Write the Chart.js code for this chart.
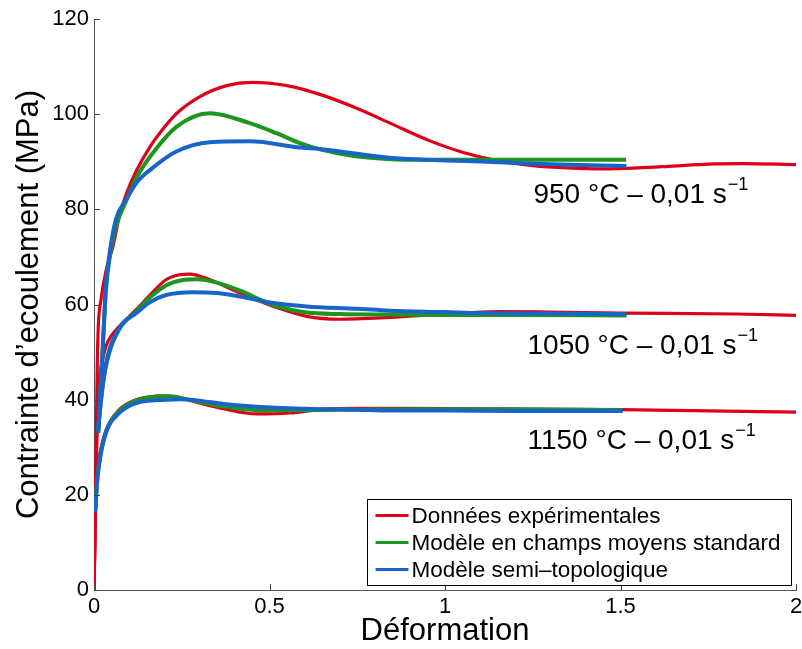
<!DOCTYPE html>
<html>
<head>
<meta charset="utf-8">
<title>Contrainte d'écoulement</title>
<script src="https://cdn.jsdelivr.net/npm/chart.js@4.4.1/dist/chart.umd.min.js"></script>
<style>
  html, body { margin: 0; padding: 0; background: #fff; }
  #wrap { width: 802px; height: 649px; }
</style>
</head>
<body>
<div id="wrap"><canvas id="flow-chart" width="802" height="649"></canvas></div>
<script>
// axis ticks
const strainTicks = [0, 0.5, 1, 1.5, 2];
const stressTicks = [0, 20, 40, 60, 80, 100, 120];

// 950 °C
const strainExp950 = [0, 0.003, 0.006, 0.009, 0.012, 0.02, 0.034, 0.055, 0.072, 0.093, 0.12, 0.16, 0.2, 0.236, 0.302, 0.378, 0.45, 0.55, 0.65, 0.75, 0.85, 0.95, 1.05, 1.15, 1.25, 1.35, 1.45, 1.55, 1.65, 1.75, 1.85, 2.0];
const stressExp950 = [0, 12, 30, 46, 55, 61, 67, 72.5, 78.5, 83.4, 88, 93.2, 97.2, 100.2, 103.7, 106.0, 106.7, 106.0, 104.0, 101.2, 97.9, 94.6, 92.0, 90.2, 89.2, 88.7, 88.5, 88.7, 89.1, 89.5, 89.6, 89.4];
const strainStd950 = [0.012, 0.015, 0.025, 0.034, 0.046, 0.063, 0.093, 0.12, 0.16, 0.236, 0.33, 0.444, 0.52, 0.587, 0.644, 0.74, 0.834, 0.95, 1.1, 1.3, 1.516];
const stressStd950 = [33, 37, 51, 63, 70.5, 76.5, 82, 86.5, 91.1, 97.4, 100.2, 98.1, 96.0, 93.9, 92.6, 91.2, 90.6, 90.4, 90.4, 90.4, 90.4];
const strainTopo950 = [0.012, 0.015, 0.025, 0.034, 0.046, 0.063, 0.093, 0.12, 0.16, 0.236, 0.33, 0.444, 0.587, 0.644, 0.834, 1.119, 1.3, 1.517];
const stressTopo950 = [33, 37, 51, 64, 71.5, 78, 82.2, 85.5, 88.3, 92.2, 94.1, 94.3, 93.0, 92.7, 90.9, 90.0, 89.5, 89.1];

// 1050 °C
const strainExp1050 = [0, 0.003, 0.006, 0.01, 0.015, 0.025, 0.034, 0.05, 0.072, 0.12, 0.16, 0.205, 0.24, 0.274, 0.32, 0.416, 0.511, 0.606, 0.7, 0.843, 1.0, 1.15, 1.3, 1.5, 1.83, 2.0];
const stressExp1050 = [0, 12, 25, 36, 44, 48.5, 51.2, 53.5, 55.4, 58.9, 62, 65.2, 66.2, 66.4, 65.5, 62.4, 59.6, 57.5, 56.9, 57.3, 58.0, 58.5, 58.4, 58.2, 58.0, 57.7];
const strainStd1050 = [0.012, 0.02, 0.034, 0.072, 0.12, 0.16, 0.205, 0.25, 0.293, 0.35, 0.416, 0.511, 0.606, 0.7, 0.843, 1.0, 1.2, 1.517];
const stressStd1050 = [34, 40, 47, 54.8, 58.5, 61.5, 64, 65.1, 65.3, 64.6, 62.9, 59.9, 58.3, 58.0, 57.9, 57.8, 57.8, 57.7];
const strainTopo1050 = [0.012, 0.02, 0.034, 0.072, 0.121, 0.16, 0.205, 0.283, 0.35, 0.416, 0.511, 0.606, 0.75, 0.843, 1.0, 1.1, 1.3, 1.517];
const stressTopo1050 = [33.5, 40, 47.5, 55, 58.2, 60.5, 62, 62.6, 62.4, 61.7, 60.3, 59.6, 59.1, 58.7, 58.4, 58.2, 58.1, 58.0];

// 1150 °C
const strainExp1150 = [0, 0.003, 0.005, 0.008, 0.015, 0.034, 0.072, 0.12, 0.16, 0.198, 0.25, 0.3, 0.368, 0.463, 0.558, 0.653, 0.75, 0.9, 1.2, 1.5, 1.8, 2.0];
const stressExp1150 = [0, 14, 22, 25, 28, 33.5, 37.9, 40, 40.6, 40.8, 40.3, 39.3, 38.1, 37.0, 37.2, 38.0, 38.2, 38.2, 38.0, 37.9, 37.6, 37.4];
const strainStd1150 = [0.004, 0.008, 0.015, 0.034, 0.072, 0.12, 0.16, 0.215, 0.27, 0.368, 0.463, 0.6, 0.75, 0.9, 1.2, 1.506];
const stressStd1150 = [17, 22, 27, 33.2, 37.6, 39.8, 40.5, 40.7, 40.0, 38.6, 37.8, 37.8, 37.9, 38.0, 38.0, 37.8];
const strainTopo1150 = [0.004, 0.008, 0.015, 0.034, 0.072, 0.12, 0.205, 0.245, 0.3, 0.368, 0.463, 0.6, 0.75, 0.843, 1.0, 1.2, 1.506];
const stressTopo1150 = [16.5, 22, 26.6, 33, 37.2, 39.3, 40, 40.1, 39.8, 39.1, 38.5, 38.1, 37.9, 37.7, 37.7, 37.6, 37.6];

const seriesNames = ['Données expérimentales', 'Modèle en champs moyens standard', 'Modèle semi\u2013topologique'];
const seriesColors = ['rgb(222, 0, 26)', 'rgb(28, 150, 30)', 'rgb(24, 100, 200)'];
const seriesWidths = [3.2, 4, 4];
const curveLabels = ['950 °C \u2013 0,01 s', '1050 °C \u2013 0,01 s', '1150 °C \u2013 0,01 s'];

const FONT = '"Liberation Sans", Arial, Helvetica, sans-serif';

function pts(xs, ys) {
    return xs.map((x, i) => ({ x: x, y: ys[i] }));
}

function curve(kind, xs, ys) {
    return {
        label: seriesNames[kind],
        data: pts(xs, ys),
        borderColor: seriesColors[kind],
        backgroundColor: seriesColors[kind],
        borderWidth: seriesWidths[kind],
        pointRadius: 0,
        fill: false,
        cubicInterpolationMode: 'monotone',
        order: 2 - kind // blue on top, red underneath
    };
}

const datasets = [
    curve(0, strainExp950, stressExp950),
    curve(1, strainStd950, stressStd950),
    curve(2, strainTopo950, stressTopo950),
    curve(0, strainExp1050, stressExp1050),
    curve(1, strainStd1050, stressStd1050),
    curve(2, strainTopo1050, stressTopo1050),
    curve(0, strainExp1150, stressExp1150),
    curve(1, strainStd1150, stressStd1150),
    curve(2, strainTopo1150, stressTopo1150)
];

// label anchors in data units (left edge, baseline)
const labelAnchors = [
    { x: 1.252, y: 81.4 },
    { x: 1.235, y: 49.6 },
    { x: 1.235, y: 29.7 }
];

// inward ticks, curve labels and the boxed legend
const decorPlugin = {
    id: 'decor',
    afterDraw(chart) {
        const ctx = chart.ctx;
        const xs = chart.scales.x, ys = chart.scales.y;
        const area = chart.chartArea;
        ctx.save();

        ctx.strokeStyle = '#444';
        ctx.lineWidth = 1;
        ctx.beginPath();
        strainTicks.forEach(v => {
            const px = Math.round(xs.getPixelForValue(v)) + 0.5;
            ctx.moveTo(px, area.bottom);
            ctx.lineTo(px, area.bottom - 6);
        });
        stressTicks.forEach(v => {
            const py = Math.round(ys.getPixelForValue(v)) + 0.5;
            ctx.moveTo(area.left, py);
            ctx.lineTo(area.left + 6, py);
        });
        ctx.stroke();

        ctx.fillStyle = '#000';
        ctx.textBaseline = 'alphabetic';
        curveLabels.forEach((txt, i) => {
            const px = xs.getPixelForValue(labelAnchors[i].x);
            const py = ys.getPixelForValue(labelAnchors[i].y);
            ctx.font = '28px ' + FONT;
            ctx.fillText(txt, px, py);
            const w = ctx.measureText(txt).width;
            ctx.font = '18px ' + FONT;
            ctx.fillText('\u22121', px + w + 1, py - 13);
        });

        // legend
        const boxW = 424, boxH = 86;
        const bx = Math.round(area.right - 5 - boxW) + 0.5;
        const by = Math.round(area.bottom - 5 - boxH) + 0.5;
        ctx.fillStyle = '#fff';
        ctx.fillRect(bx, by, boxW, boxH);
        ctx.strokeStyle = '#000';
        ctx.lineWidth = 1;
        ctx.strokeRect(bx, by, boxW, boxH);
        ctx.font = '22.5px ' + FONT;
        ctx.textBaseline = 'middle';
        seriesNames.forEach((name, i) => {
            const cy = by + 16 + i * 27;
            ctx.strokeStyle = seriesColors[i];
            ctx.lineWidth = 3;
            ctx.beginPath();
            ctx.moveTo(bx + 8, cy);
            ctx.lineTo(bx + 41, cy);
            ctx.stroke();
            ctx.fillStyle = '#000';
            ctx.fillText(name, bx + 44, cy + 1);
        });
        ctx.restore();
    }
};

new Chart(document.getElementById('flow-chart').getContext('2d'), {
    type: 'line',
    data: { datasets: datasets },
    options: {
        responsive: false,
        devicePixelRatio: 1,
        animation: false,
        layout: { padding: { top: 19, right: 6, left: 0, bottom: 0 } },
        plugins: {
            legend: { display: false },
            tooltip: { enabled: false }
        },
        scales: {
            x: {
                type: 'linear',
                min: 0,
                max: 2,
                ticks: {
                    stepSize: 0.5,
                    color: '#000',
                    padding: 4,
                    maxRotation: 0,
                    font: { family: FONT, size: 22 },
                    callback: v => String(v)
                },
                grid: { display: true, drawOnChartArea: false, drawTicks: false },
                border: { display: true, color: '#555', width: 1 },
                title: {
                    display: true,
                    text: 'Déformation',
                    color: '#000',
                    font: { family: FONT, size: 31, lineHeight: 1.1 },
                    padding: { top: 0, bottom: 0 }
                },
                afterFit: s => {
                    s.height = 59;
                    s.paddingLeft = 0;
                    s.paddingRight = 0;
                }
            },
            y: {
                type: 'linear',
                min: 0,
                max: 120,
                ticks: {
                    stepSize: 20,
                    color: '#000',
                    padding: 5,
                    font: { family: FONT, size: 22 }
                },
                grid: { display: true, drawOnChartArea: false, drawTicks: false },
                border: { display: true, color: '#555', width: 1 },
                title: {
                    display: true,
                    text: 'Contrainte d\u2019ecoulement (MPa)',
                    color: '#000',
                    font: { family: FONT, size: 31, lineHeight: 1.1 },
                    padding: { top: 12, bottom: 0 }
                },
                afterFit: s => { s.width = 94; }
            }
        }
    },
    plugins: [decorPlugin]
});
</script>
</body>
</html>
